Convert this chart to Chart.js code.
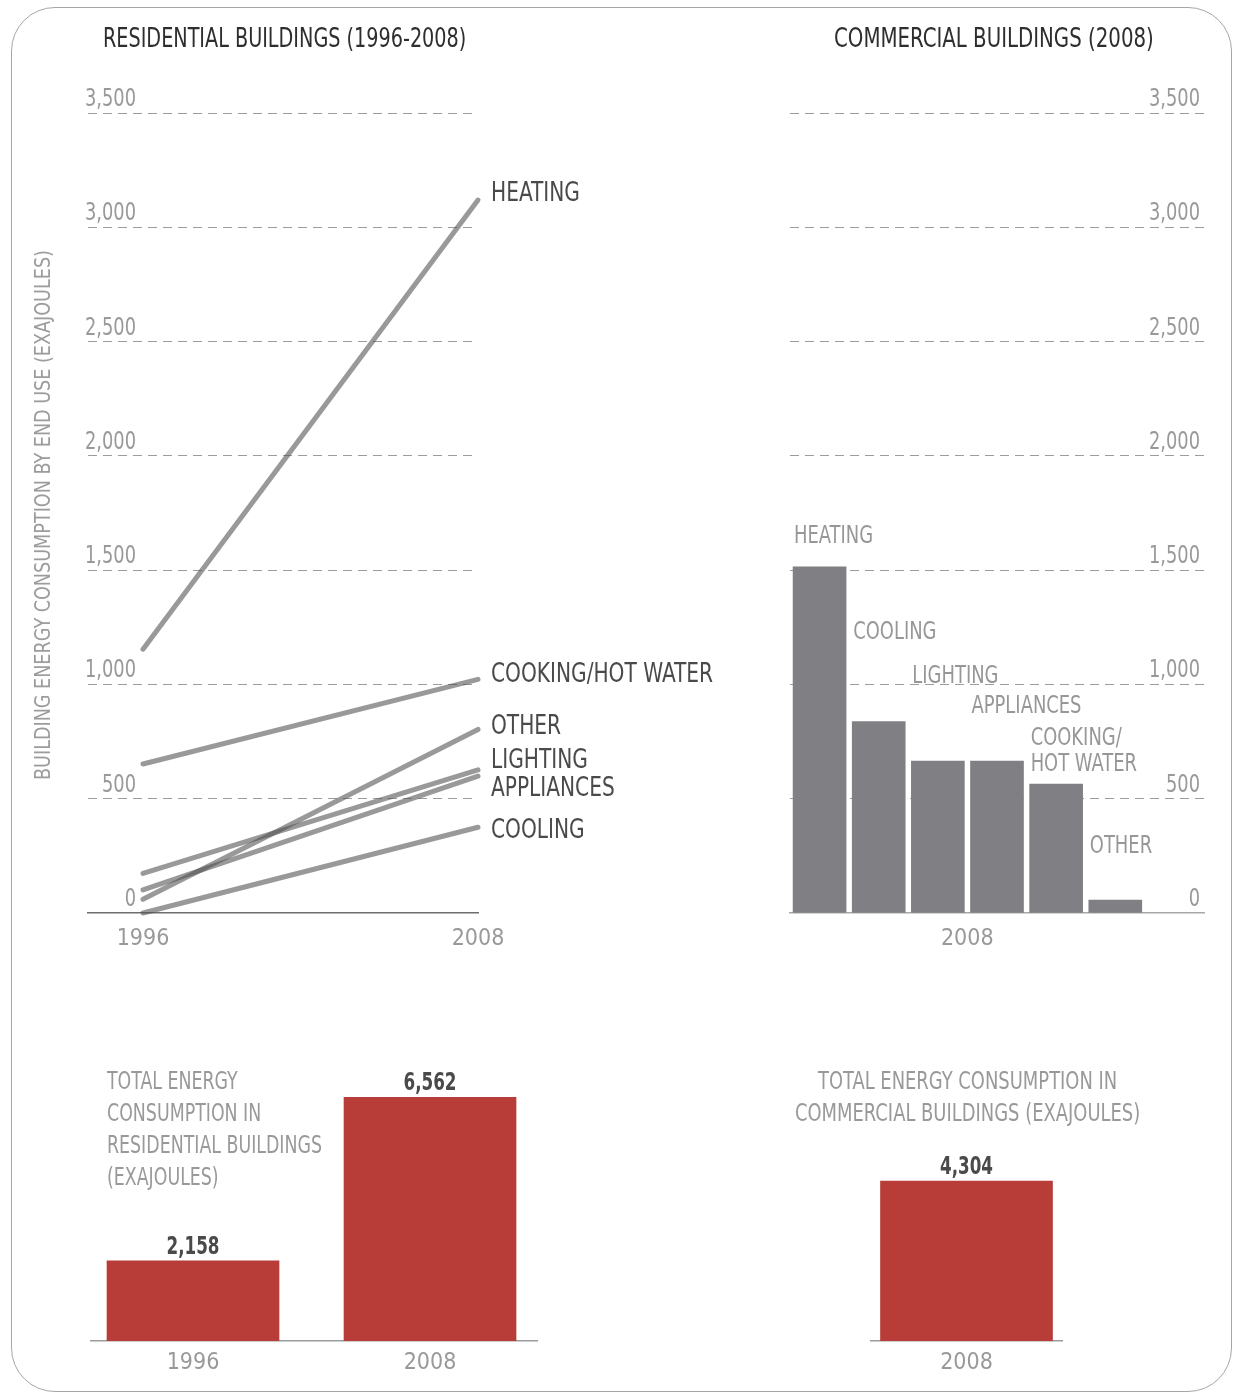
<!DOCTYPE html>
<html>
<head>
<meta charset="utf-8">
<title>Building energy consumption by end use</title>
<script src="https://cdn.jsdelivr.net/npm/chart.js@4.4.1/dist/chart.umd.min.js"></script>
<style>
  html, body { margin: 0; padding: 0; background: #fff; }
  body { position: relative; width: 1235px; height: 1393px; overflow: hidden;
         font-family: "Liberation Sans Narrow", "DejaVu Sans Condensed", "Arial Narrow", sans-serif; }
  .frame { position: absolute; left: 11px; top: 7px; width: 1221px; height: 1385px; box-sizing: border-box;
           border: 1.5px solid #a6a6a6; border-radius: 44px; }
  .box { position: absolute; }
  .t { position: absolute; white-space: nowrap; transform-origin: 0 0; line-height: 1; }
  #ytitle { position: absolute; white-space: nowrap; line-height: 1; font-size: 22px; color: #9a9a9a; }
</style>
</head>
<body>
<div class="frame"></div>

<div class="box" style="left:0;top:0;width:760px;height:960px"><canvas id="resLines"></canvas></div>
<div class="box" style="left:760px;top:0;width:475px;height:960px"><canvas id="commBars"></canvas></div>
<div class="box" style="left:0;top:1040px;width:620px;height:353px"><canvas id="resTotal"></canvas></div>
<div class="box" style="left:800px;top:1040px;width:335px;height:353px"><canvas id="commTotal"></canvas></div>

<div class="t" data-w="363" style="left:103px;top:24px;font-size:27px;color:#2e2e2e">RESIDENTIAL BUILDINGS (1996-2008)</div>
<div class="t" data-w="320" style="left:834px;top:24px;font-size:27px;color:#2e2e2e">COMMERCIAL BUILDINGS (2008)</div>
<div id="ytitle">BUILDING ENERGY CONSUMPTION BY END USE (EXAJOULES)</div>
<div class="t" data-w="215" style="left:107px;top:1065px;font-size:25px;line-height:32px;color:#999">TOTAL ENERGY<br>CONSUMPTION IN<br>RESIDENTIAL BUILDINGS<br>(EXAJOULES)</div>
<div class="t" data-w="345" data-cx="967" style="top:1065px;font-size:25px;line-height:32px;color:#999;text-align:center">TOTAL ENERGY CONSUMPTION IN<br>COMMERCIAL BUILDINGS (EXAJOULES)</div>

<script>
const FONT = '"Liberation Sans Narrow", "DejaVu Sans Condensed", "Arial Narrow", sans-serif';
const GREY_TEXT = '#999999';
const GRID = '#9c9c9c';

// residential end use (exajoules)
const resYears = [1996, 2008];
const resUses = ['HEATING', 'COOKING/HOT WATER', 'OTHER', 'LIGHTING', 'APPLIANCES', 'COOLING'];
const resHeating = [1154, 3119];
const resCooking = [652, 1022];
const resOther = [60, 803];
const resLighting = [173, 626];
const resAppliances = [101, 599];
const resCooling = [0, 375];

// commercial end use, 2008
const commYear = '2008';
const commUses = ['HEATING', 'COOLING', 'LIGHTING', 'APPLIANCES', 'COOKING/\nHOT WATER', 'OTHER'];
const commValues = [1515, 837, 665, 665, 564, 57];

// totals
const resTotalYears = ['1996', '2008'];
const resTotals = [2158, 6562];
const commTotalYears = ['2008'];
const commTotals = [4304];

const yMax = 3500;
const yStep = 500;

// squeeze text horizontally to get close to the narrow typeface of the original
const mctx = document.createElement('canvas').getContext('2d');
function squeeze(text, size, target, weight) {
  mctx.font = (weight || 'normal') + ' ' + size + 'px ' + FONT;
  return Math.max(0.6, Math.min(1.3, target / mctx.measureText(text).width));
}
const SX_LINE = squeeze('COOKING/HOT WATER', 27, 222);
const SX_TICK = squeeze('3,500', 25, 51);
const SX_COMM = squeeze('APPLIANCES', 24, 110);
const SX_BOLD = squeeze('6,562', 24, 53, 'bold');
const TICK_SIZE = 23;

function drawScaled(ctx, text, x, y, sx) {
  ctx.save();
  ctx.translate(x, y);
  ctx.scale(sx, 1);
  ctx.fillText(text, 0, 0);
  ctx.restore();
}

const yTickLabels = {
  id: 'yTickLabels',
  afterDraw(chart, args, o) {
    const ctx = chart.ctx, y = chart.scales.y;
    ctx.save();
    ctx.font = '25px ' + FONT;
    ctx.fillStyle = GREY_TEXT;
    ctx.textAlign = 'right';
    ctx.textBaseline = 'alphabetic';
    y.ticks.forEach(t => {
      drawScaled(ctx, t.value.toLocaleString('en-US'), o.x, y.getPixelForValue(t.value) - 7, SX_TICK);
    });
    ctx.restore();
  }
};

const lineEndLabels = {
  id: 'lineEndLabels',
  afterDatasetsDraw(chart, args, o) {
    const ctx = chart.ctx;
    ctx.save();
    ctx.font = '27px ' + FONT;
    ctx.fillStyle = '#4a4a4a';
    ctx.textAlign = 'left';
    ctx.textBaseline = 'middle';
    chart.data.datasets.forEach((ds, i) => {
      const pts = chart.getDatasetMeta(i).data;
      const p = pts[pts.length - 1];
      drawScaled(ctx, ds.label, p.x + 13, p.y + o.shift[i], SX_LINE);
    });
    ctx.restore();
  }
};

const barEndLabels = {
  id: 'barEndLabels',
  afterDatasetsDraw(chart, args, o) {
    const ctx = chart.ctx, meta = chart.getDatasetMeta(0);
    ctx.save();
    ctx.font = '24px ' + FONT;
    ctx.fillStyle = '#979797';
    ctx.textAlign = 'left';
    ctx.textBaseline = 'alphabetic';
    meta.data.forEach((bar, i) => {
      const text = chart.data.labels[i];
      if (!text) return;
      const left = bar.x - bar.width / 2 + 1;
      text.split('\n').forEach((ln, k) => {
        drawScaled(ctx, ln, left, bar.y - o.lift[i] + k * 26, SX_COMM);
      });
    });
    ctx.restore();
  }
};

const totalLabels = {
  id: 'totalLabels',
  afterDatasetsDraw(chart) {
    const ctx = chart.ctx, meta = chart.getDatasetMeta(0), data = chart.data.datasets[0].data;
    ctx.save();
    ctx.font = 'bold 24px ' + FONT;
    ctx.fillStyle = '#4a4a4a';
    ctx.textAlign = 'center';
    ctx.textBaseline = 'alphabetic';
    meta.data.forEach((bar, i) => {
      const v = typeof data[i] === 'object' ? data[i].y : data[i];
      drawScaled(ctx, v.toLocaleString('en-US'), bar.x, bar.y - 7, SX_BOLD);
    });
    ctx.restore();
  }
};

const tickFont = { family: FONT, size: TICK_SIZE };
const hideZero = c => (c.tick && c.tick.value === 0) ? 'rgba(0,0,0,0)' : GRID;
const base = {
  animation: false,
  responsive: true,
  maintainAspectRatio: false,
  events: []
};

// residential lines
const resSeries = [resHeating, resCooking, resOther, resLighting, resAppliances, resCooling];
new Chart(document.getElementById('resLines'), {
  type: 'line',
  data: {
    datasets: resSeries.map((vals, i) => ({
      label: resUses[i],
      data: vals.map((v, j) => ({ x: resYears[j], y: v })),
      borderColor: 'rgba(80,80,80,0.58)',
      borderWidth: 5,
      borderCapStyle: 'round',
      pointRadius: 0,
      tension: 0,
      clip: false
    }))
  },
  options: Object.assign({}, base, {
    layout: { padding: { left: 88, right: 282, top: 113, bottom: 7 } },
    plugins: {
      legend: { display: false },
      tooltip: { enabled: false },
      yTickLabels: { x: 136 },
      lineEndLabels: { shift: [-6, -4, -2, -9, 13, 4] }
    },
    scales: {
      x: {
        type: 'linear', min: 1994.03, max: 2008, offset: false,
        afterBuildTicks: s => { s.ticks = resYears.map(v => ({ value: v })); },
        afterFit: s => { s.height = 40; },
        grid: { display: false, drawTicks: false },
        border: { display: true, color: '#6e6e6e', width: 1.5 },
        ticks: { padding: 12, color: GREY_TEXT, font: tickFont, autoSkip: false, maxRotation: 0,
                 callback: v => String(v) }
      },
      y: {
        min: 0, max: yMax,
        afterFit: s => { s.width = 0; },
        ticks: { display: false, stepSize: yStep },
        grid: { color: hideZero, lineWidth: 1, drawTicks: false, borderDash: [9, 6] },
        border: { display: false, dash: [9, 6] }
      }
    }
  }),
  plugins: [yTickLabels, lineEndLabels]
});

// commercial bars (one empty slot at the end leaves room for the axis labels)
new Chart(document.getElementById('commBars'), {
  type: 'bar',
  data: {
    labels: commUses.concat(['']),
    datasets: [{ data: commValues, backgroundColor: '#808084', barThickness: 53 }]
  },
  options: Object.assign({}, base, {
    layout: { padding: { left: 30, right: 31, top: 113, bottom: 7 } },
    plugins: {
      legend: { display: false },
      tooltip: { enabled: false },
      yTickLabels: { x: 440 },
      barEndLabels: { lift: [24, 83, 78, 48, 39, 47] }
    },
    scales: {
      x: {
        offset: true,
        afterFit: s => { s.height = 40; },
        grid: { display: false, drawTicks: false },
        border: { display: true, color: '#a8a8a8', width: 1.5 },
        ticks: { padding: 12, color: GREY_TEXT, font: tickFont, autoSkip: false, maxRotation: 0,
                 labelOffset: 29.4,
                 callback: (v, i) => i === commValues.length / 2 - 1 ? commYear : '' }
      },
      y: {
        min: 0, max: yMax,
        afterFit: s => { s.width = 0; },
        ticks: { display: false, stepSize: yStep },
        grid: { color: hideZero, lineWidth: 1, drawTicks: false, borderDash: [9, 6] },
        border: { display: false, dash: [9, 6] }
      }
    }
  }),
  plugins: [yTickLabels, barEndLabels]
});

const totalMax = Math.max(...resTotals, ...commTotals);
const RED = '#b83c38';

// residential totals
new Chart(document.getElementById('resTotal'), {
  type: 'bar',
  data: {
    datasets: [{
      data: resTotals.map((v, i) => ({ x: i, y: v })),
      backgroundColor: RED,
      barThickness: 172
    }]
  },
  options: Object.assign({}, base, {
    layout: { padding: { left: 91, right: 83, top: 57, bottom: 12 } },
    plugins: { legend: { display: false }, tooltip: { enabled: false } },
    scales: {
      x: {
        type: 'linear', min: -0.4304, max: 1.4514, offset: false,
        afterBuildTicks: s => { s.ticks = resTotalYears.map((y, i) => ({ value: i })); },
        afterFit: s => { s.height = 40; },
        grid: { display: false, drawTicks: false },
        border: { display: true, color: '#9c9c9c', width: 1.5 },
        ticks: { padding: 8, color: GREY_TEXT, font: tickFont, autoSkip: false, maxRotation: 0,
                 callback: v => resTotalYears[v] }
      },
      y: { display: false, min: 0, max: totalMax }
    }
  }),
  plugins: [totalLabels]
});

// commercial total
new Chart(document.getElementById('commTotal'), {
  type: 'bar',
  data: {
    labels: commTotalYears,
    datasets: [{ data: commTotals, backgroundColor: RED, barThickness: 172 }]
  },
  options: Object.assign({}, base, {
    layout: { padding: { left: 71, right: 73, top: 57, bottom: 12 } },
    plugins: { legend: { display: false }, tooltip: { enabled: false } },
    scales: {
      x: {
        afterFit: s => { s.height = 40; },
        grid: { display: false, drawTicks: false },
        border: { display: true, color: '#9c9c9c', width: 1.5 },
        ticks: { padding: 8, color: GREY_TEXT, font: tickFont, maxRotation: 0 }
      },
      y: { display: false, min: 0, max: totalMax }
    }
  }),
  plugins: [totalLabels]
});

// fit the html titles to the widths of the original lettering
document.querySelectorAll('.t[data-w]').forEach(el => {
  const w = el.offsetWidth;
  const k = +el.dataset.w / w;
  el.style.transform = 'scaleX(' + k + ')';
  if (el.dataset.cx) el.style.left = (+el.dataset.cx - w * k / 2) + 'px';
});
const yt = document.getElementById('ytitle');
const ytw = yt.offsetWidth, yth = yt.offsetHeight;
yt.style.left = (43 - ytw / 2) + 'px';
yt.style.top = (515 - yth / 2) + 'px';
yt.style.transform = 'rotate(-90deg) scaleX(' + (530 / ytw) + ')';
</script>
</body>
</html>
